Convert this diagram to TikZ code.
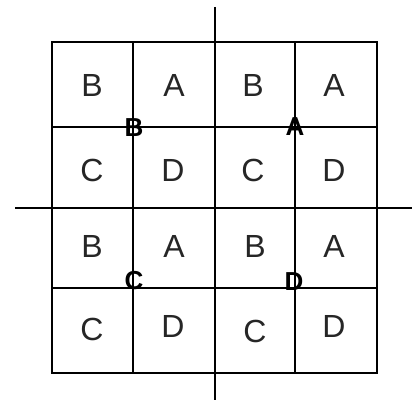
\documentclass[tikz,border=0pt]{standalone}
\usepackage{fontspec}
\setmainfont{Liberation Sans}
\begin{document}
\begin{tikzpicture}[x=1pt,y=-1pt,
  gridline/.style={line width=2.2pt,black},
  axisline/.style={line width=2.2pt,black},
  cell/.style={font=\fontsize{32}{32}\selectfont,text=black!85,inner sep=0pt},
  xmark/.style={font=\bfseries\fontsize{26}{26}\selectfont,inner sep=0pt}]
\useasboundingbox (0,0) rectangle (413,404);
\fill[white] (0,0) rectangle (413,404);
% grid
\draw[gridline] (52,42) rectangle (377,373);
\draw[gridline] (52,127) -- (377,127);
\draw[gridline] (52,288) -- (377,288);
\draw[gridline] (133,42) -- (133,373);
\draw[gridline] (295,42) -- (295,373);
% axes
\draw[axisline] (15,208) -- (412,208);
\draw[axisline] (215,7) -- (215,400);
% cell letters
\node[cell] (r1c1) at (92,85) {B};
\node[cell] (r1c2) at (174,85) {A};
\node[cell] (r1c3) at (253,85) {B};
\node[cell] (r1c4) at (334,85) {A};
\node[cell] (r2c1) at (92,170) {C};
\node[cell] (r2c2) at (173,170) {D};
\node[cell] (r2c3) at (253,170) {C};
\node[cell] (r2c4) at (334,170) {D};
\node[cell] (r3c1) at (92,246) {B};
\node[cell] (r3c2) at (174,246) {A};
\node[cell] (r3c3) at (255,246) {B};
\node[cell] (r3c4) at (334,246) {A};
\node[cell] (r4c1) at (92,329) {C};
\node[cell] (r4c2) at (173,326) {D};
\node[cell] (r4c3) at (255,331) {C};
\node[cell] (r4c4) at (334,326) {D};
% intersection marks
\node[xmark] (mB) at (134,128) {B};
\node[xmark] (mA) at (295,127) {A};
\node[xmark] (mC) at (134,281) {C};
\node[xmark] (mD) at (294,282) {D};
\end{tikzpicture}
\end{document}
